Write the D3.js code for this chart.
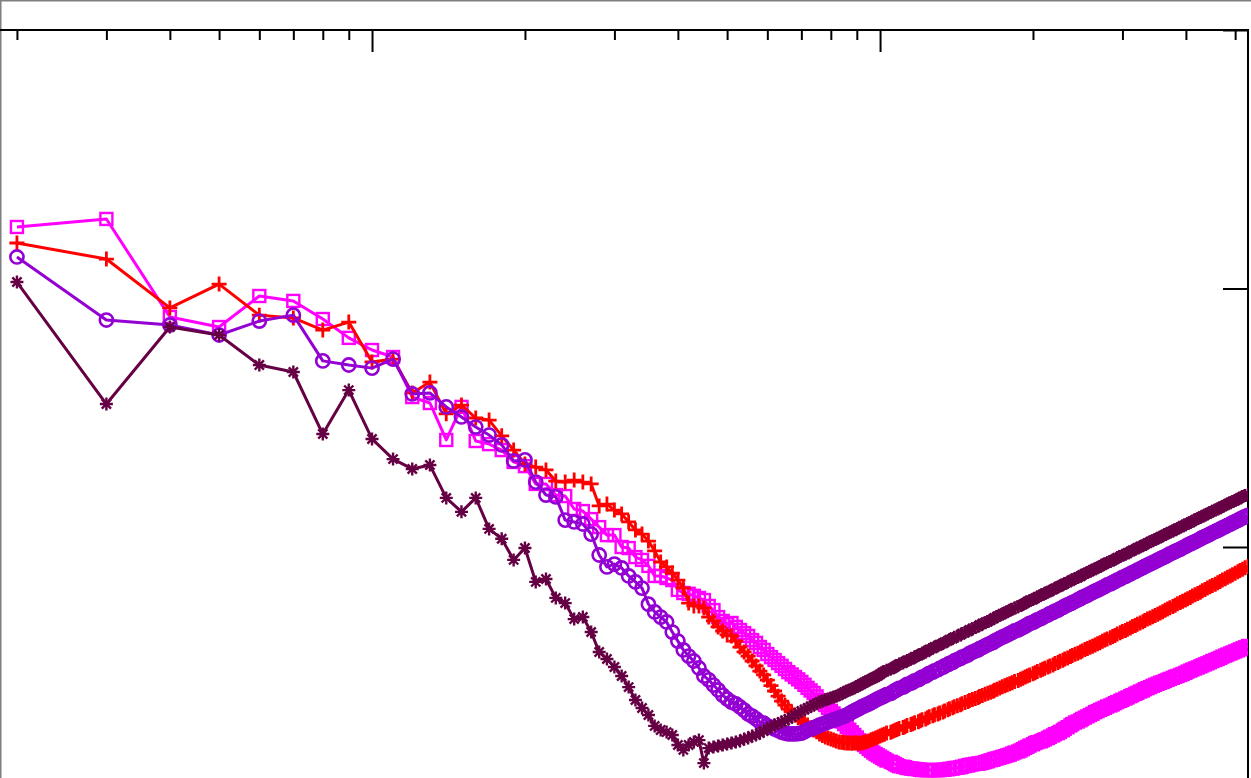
<!DOCTYPE html>
<html>
<head>
<meta charset="utf-8">
<script src="https://cdn.jsdelivr.net/npm/d3@7/dist/d3.min.js"></script>
<style>
  html, body { margin: 0; padding: 0; background: #fff; }
  svg { display: block; }
</style>
</head>
<body>
<svg id="chart" width="1251" height="778"></svg>
<script>
// Sample sizes shared by every series (log axis)
const sizes = [2,3,4,5,6,7,8,9,10,11,12,13,14,15,16,17,18,19,20,21,22,23,24,25,26,27,28,29,30,
  31,32,33,34,35,36,37,38,39,40,41,42,43,44,45,46,47,48,49,50,
  51,52,53,54,55,56,57,58,59,60,61,62,63,64,65,66,67,68,69,70,71,72,73,74,75,76,77,78,79,80,
  81,82,83,84,85,86,87,88,89,90,91,92,93,94,95,96,97,98,99,100,
  101,102,103,105,106,107,108,109,111,112,113,115,116,117,119,120,121,123,124,125,
  127,128,130,131,133,134,136,137,139,140,142,144,145,147,149,150,152,154,156,157,
  159,161,163,165,167,168,170,172,174,176,178,180,182,184,187,189,191,193,195,197,
  200,202,204,207,209,211,214,216,219,221,224,226,229,231,234,237,239,242,245,248,
  250,253,256,259,262,265,268,271,274,277,280,284,287,290,293,297,300,304,307,311,
  314,318,321,325,329,332,336,340,344,348,352,356,360,364,368,372,377,381,385,390,
  394,399,403,408,412,417,422,427,431,436,441,446,451,457,462,467,472,478,483,489,
  494,500,506,511,517,523,530];

// Series values
const squaresSeries = [22.38,22.69,18.90,18.51,19.71,19.52,18.82,18.09,17.62,17.35,15.80,15.57,14.14,15.42,14.10,13.98,13.75,13.29,13.13,12.44,12.44,12.01,11.97,11.47,11.39,11.08,10.77,10.46,10.46,10.00,9.96,9.61,9.50,9.27,8.88,8.88,8.80,8.72,8.34,8.22,8.19,8.11,8.03,7.95,7.72,7.56,7.29,7.14,7.02,
  7.06,6.91,6.79,6.67,6.56,6.40,6.29,6.13,6.02,5.86,
  5.74,5.63,5.51,5.40,5.28,5.16,5.07,4.97,4.88,4.78,4.67,4.55,4.45,4.35,4.22,4.08,3.99,3.89,3.78,3.66,
  3.56,3.46,3.35,3.25,3.15,3.04,2.93,2.83,2.73,2.63,2.52,2.42,2.34,2.27,2.19,2.12,2.05,1.99,1.94,1.89,
  1.84,1.79,1.74,1.69,1.65,1.60,1.56,1.52,1.50,1.48,1.45,1.43,1.42,1.41,1.40,1.38,1.37,1.37,1.37,1.37,
  1.37,1.37,1.37,1.37,1.38,1.39,1.40,1.42,1.43,1.45,1.46,1.48,1.50,1.53,1.55,1.57,1.59,1.61,1.62,1.63,
  1.65,1.68,1.71,1.75,1.77,1.80,1.82,1.85,1.88,1.91,1.94,1.97,2.01,2.05,2.09,2.13,2.18,2.23,2.27,2.32,
  2.37,2.42,2.45,2.48,2.52,2.56,2.61,2.66,2.71,2.76,2.80,2.85,2.91,2.97,3.03,3.10,3.15,3.21,3.25,3.30,
  3.35,3.40,3.45,3.50,3.55,3.61,3.65,3.70,3.74,3.78,3.83,3.87,3.91,3.96,4.00,4.05,4.09,4.14,4.18,4.23,
  4.27,4.32,4.36,4.41,4.45,4.50,4.54,4.58,4.63,4.67,4.71,4.75,4.78,4.82,4.86,4.90,4.94,4.98,5.01,5.05,
  5.09,5.13,5.18,5.22,5.26,5.30,5.34,5.38,5.42,5.46,5.50,5.54,5.59,5.63,5.67,5.71,5.76,5.80,5.84,5.88,
  5.92,5.96,6.00,6.04,6.08,6.12,6.17];

const plusSeries = [21.76,21.14,19.25,20.17,18.97,18.86,18.39,18.70,17.16,17.27,15.96,16.38,15.15,15.49,14.99,14.91,14.30,13.75,13.21,13.09,12.98,12.55,12.51,12.59,12.51,12.44,11.59,11.66,11.43,11.28,10.97,10.66,10.50,10.23,9.85,9.42,9.23,8.99,8.72,8.41,7.83,7.72,7.72,7.64,7.29,7.14,6.91,6.75,6.60,
  6.56,6.36,6.13,5.94,5.78,5.59,5.40,5.20,5.05,4.85,
  4.64,4.43,4.23,4.04,3.88,3.73,3.62,3.50,3.39,3.27,3.19,3.11,3.01,2.92,2.85,2.77,2.71,2.65,2.61,2.57,
  2.53,2.50,2.46,2.45,2.43,2.42,2.42,2.41,2.42,2.42,2.41,2.42,2.45,2.47,2.50,2.54,2.57,2.61,2.65,2.69,
  2.73,2.76,2.80,2.83,2.87,2.91,2.94,2.98,3.02,3.05,3.09,3.13,3.16,3.20,3.24,3.28,3.32,3.35,3.39,3.43,
  3.47,3.51,3.54,3.58,3.62,3.66,3.70,3.74,3.78,3.82,3.86,3.90,3.94,3.98,4.02,4.06,4.10,4.14,4.18,4.22,
  4.26,4.30,4.34,4.38,4.42,4.46,4.50,4.55,4.59,4.63,4.67,4.71,4.75,4.80,4.84,4.88,4.92,4.97,5.01,5.05,
  5.10,5.14,5.18,5.23,5.27,5.31,5.36,5.40,5.44,5.49,5.53,5.58,5.62,5.67,5.71,5.76,5.80,5.85,5.89,5.94,
  5.98,6.03,6.07,6.12,6.16,6.21,6.26,6.30,6.35,6.40,6.44,6.49,6.54,6.58,6.63,6.68,6.73,6.77,6.82,6.87,
  6.92,6.96,7.01,7.06,7.11,7.16,7.21,7.25,7.30,7.35,7.40,7.45,7.50,7.55,7.60,7.65,7.70,7.75,7.80,7.85,
  7.90,7.95,8.00,8.05,8.10,8.15,8.20,8.25,8.31,8.36,8.41,8.46,8.51,8.56,8.62,8.67,8.72,8.77,8.83,8.88,
  8.93,8.98,9.04,9.09,9.14,9.20,9.25];

const circleSeries = [21.22,18.78,18.59,18.20,18.74,18.97,17.20,17.04,16.92,17.27,15.92,15.96,15.42,15.03,14.64,14.33,13.95,13.33,13.37,12.51,12.01,11.94,11.04,10.97,10.89,10.50,9.69,9.23,9.34,9.19,8.88,8.65,8.41,7.79,7.49,7.29,7.10,6.71,6.36,6.02,5.78,5.59,5.32,5.01,4.86,4.66,4.47,4.27,4.12,
  4.00,3.93,3.81,3.69,3.54,3.46,3.35,3.23,3.19,3.08,
  3.02,2.96,2.90,2.84,2.80,2.77,2.77,2.77,2.78,2.80,2.86,2.92,2.96,3.00,3.05,3.11,3.15,3.19,3.23,3.27,
  3.31,3.34,3.38,3.42,3.46,3.50,3.55,3.61,3.66,3.71,3.76,3.81,3.85,3.89,3.93,3.98,4.03,4.08,4.12,4.16,
  4.20,4.24,4.29,4.34,4.39,4.44,4.48,4.53,4.58,4.63,4.68,4.73,4.77,4.82,4.87,4.92,4.97,5.01,5.06,5.11,
  5.16,5.21,5.25,5.30,5.35,5.40,5.45,5.50,5.54,5.59,5.64,5.69,5.74,5.78,5.83,5.88,5.93,5.98,6.02,6.07,
  6.12,6.17,6.22,6.27,6.31,6.36,6.41,6.46,6.51,6.55,6.60,6.65,6.70,6.75,6.79,6.84,6.89,6.94,6.99,7.04,
  7.08,7.13,7.18,7.23,7.28,7.32,7.37,7.42,7.47,7.52,7.56,7.61,7.66,7.71,7.76,7.81,7.85,7.90,7.95,8.00,
  8.05,8.09,8.14,8.19,8.24,8.29,8.33,8.38,8.43,8.48,8.53,8.57,8.62,8.67,8.72,8.77,8.82,8.86,8.91,8.96,
  9.01,9.06,9.10,9.15,9.20,9.25,9.30,9.35,9.39,9.44,9.49,9.54,9.59,9.63,9.68,9.73,9.78,9.83,9.87,9.92,
  9.97,10.02,10.07,10.12,10.16,10.21,10.26,10.31,10.36,10.40,10.45,10.50,10.55,10.60,10.64,10.69,10.74,10.79,10.84,10.88,
  10.93,10.98,11.03,11.08,11.13,11.17,11.22];

const starSeries = [20.25,15.53,18.51,18.20,17.04,16.77,14.37,16.07,14.18,13.40,13.02,13.17,11.90,11.36,11.90,10.70,10.32,9.50,9.96,8.65,8.76,8.03,7.83,7.21,7.29,6.71,5.94,5.67,5.36,5.01,4.58,4.08,3.77,3.50,3.08,2.92,2.84,2.73,2.34,2.15,2.34,2.46,2.53,1.64,2.22,2.26,2.30,2.34,2.38,
  2.42,2.46,2.50,2.57,2.61,2.69,2.73,2.80,2.88,2.96,
  3.04,3.11,3.17,3.23,3.29,3.35,3.42,3.50,3.58,3.66,3.71,3.77,3.83,3.89,3.94,4.00,4.04,4.08,4.12,4.16,
  4.20,4.23,4.27,4.32,4.38,4.43,4.47,4.51,4.55,4.60,4.65,4.70,4.75,4.80,4.85,4.89,4.93,4.97,5.02,5.08,
  5.14,5.18,5.23,5.28,5.32,5.37,5.42,5.47,5.51,5.56,5.61,5.66,5.70,5.75,5.80,5.84,5.89,5.94,5.99,6.03,
  6.08,6.13,6.18,6.22,6.27,6.32,6.37,6.41,6.46,6.51,6.55,6.60,6.65,6.70,6.74,6.79,6.84,6.89,6.93,6.98,
  7.03,7.07,7.12,7.17,7.22,7.26,7.31,7.36,7.41,7.45,7.50,7.55,7.59,7.64,7.69,7.74,7.78,7.83,7.88,7.93,
  7.97,8.02,8.07,8.12,8.16,8.21,8.26,8.30,8.35,8.40,8.45,8.49,8.54,8.59,8.64,8.68,8.73,8.78,8.82,8.87,
  8.92,8.97,9.01,9.06,9.11,9.16,9.20,9.25,9.30,9.35,9.39,9.44,9.49,9.53,9.58,9.63,9.68,9.72,9.77,9.82,
  9.87,9.91,9.96,10.01,10.05,10.10,10.15,10.20,10.24,10.29,10.34,10.39,10.43,10.48,10.53,10.57,10.62,10.67,10.72,10.76,
  10.81,10.86,10.91,10.95,11.00,11.05,11.10,11.14,11.19,11.24,11.28,11.33,11.38,11.43,11.47,11.52,11.57,11.62,11.66,11.71,
  11.76,11.80,11.85,11.90,11.95,11.99,12.04];

// Axis ticks
const xMajorTicks = [10, 100];
const xMinorTicks = [2,3,4,5,6,7,8,9,20,30,40,50,60,70,80,90,200,300,400,500];
const yTicks = [10, 20, 30];
const xDomain = [1, 530];
const yDomain = [0, 30];

const svg = d3.select("#chart");
const W = 1251, H = 778;
// plot frame (left and bottom edges fall outside the visible area)
const frame = { left: -136, right: 1248, top: 30, bottom: 805.5 };

const x = d3.scaleLog().domain(xDomain).range([frame.left, frame.right]);
const y = d3.scaleLinear().domain(yDomain).range([frame.bottom, frame.top]);

// outer page border
svg.append("rect")
  .attr("x", 0.75).attr("y", 0.75)
  .attr("width", W + 20).attr("height", H + 20)
  .attr("fill", "none").attr("stroke", "#7f7f7f").attr("stroke-width", 1.5);

svg.append("defs").append("clipPath").attr("id", "plotclip")
  .append("rect")
  .attr("x", frame.left).attr("y", frame.top)
  .attr("width", frame.right - frame.left).attr("height", frame.bottom - frame.top);

// top axis: minor and major ticks pointing inward
const topMinor = svg.append("g").attr("transform", `translate(0,${frame.top})`)
  .call(d3.axisBottom(x).tickValues(xMinorTicks).tickSize(10).tickFormat(""));
const topMajor = svg.append("g").attr("transform", `translate(0,${frame.top})`)
  .call(d3.axisBottom(x).tickValues(xMajorTicks).tickSize(22).tickFormat(""));
// right axis ticks pointing inward
const rightAx = svg.append("g").attr("transform", `translate(${frame.right},0)`)
  .call(d3.axisLeft(y).tickValues(yTicks).tickSize(25).tickFormat(""));
[topMinor, topMajor, rightAx].forEach(g => {
  g.select(".domain").remove();
  g.selectAll(".tick line").attr("stroke", "#000").attr("stroke-width", 2);
});

// plot border
svg.append("rect")
  .attr("x", frame.left).attr("y", frame.top)
  .attr("width", frame.right - frame.left).attr("height", frame.bottom - frame.top)
  .attr("fill", "none").attr("stroke", "#000").attr("stroke-width", 2);

const series = [
  { values: squaresSeries, color: "#ff00ff", marker: "square" },
  { values: plusSeries,    color: "#ff0000", marker: "plus" },
  { values: circleSeries,  color: "#9400d3", marker: "circle" },
  { values: starSeries,    color: "#660044", marker: "star" }
];

const markerPaths = {
  plus: "M-7.5,0H7.5M0,-7.5V7.5",
  star: "M-6.5,0H6.5M0,-6.5V6.5M-4.6,-4.6L4.6,4.6M-4.6,4.6L4.6,-4.6"
};

const plotG = svg.append("g").attr("clip-path", "url(#plotclip)");
const line = d3.line().x(d => x(d[0])).y(d => y(d[1]));

series.forEach(s => {
  const n = Math.min(sizes.length, s.values.length);
  const pts = sizes.slice(0, n).map((v, i) => [v, s.values[i]]);
  const g = plotG.append("g");
  g.append("path")
    .datum(pts)
    .attr("d", line)
    .attr("fill", "none")
    .attr("stroke", s.color)
    .attr("stroke-width", 3)
    .attr("stroke-linejoin", "round");
  const m = g.selectAll(".m").data(pts).enter();
  if (s.marker === "square") {
    m.append("rect")
      .attr("x", d => x(d[0]) - 6).attr("y", d => y(d[1]) - 6)
      .attr("width", 12).attr("height", 12)
      .attr("fill", "none").attr("stroke", s.color).attr("stroke-width", 2.4);
  } else if (s.marker === "circle") {
    m.append("circle")
      .attr("cx", d => x(d[0])).attr("cy", d => y(d[1])).attr("r", 6.6)
      .attr("fill", "none").attr("stroke", s.color).attr("stroke-width", 2.6);
  } else {
    m.append("path")
      .attr("transform", d => `translate(${x(d[0])},${y(d[1])})`)
      .attr("d", markerPaths[s.marker])
      .attr("fill", "none").attr("stroke", s.color)
      .attr("stroke-width", s.marker === "plus" ? 2.8 : 2.4);
  }
});
</script>
</body>
</html>
